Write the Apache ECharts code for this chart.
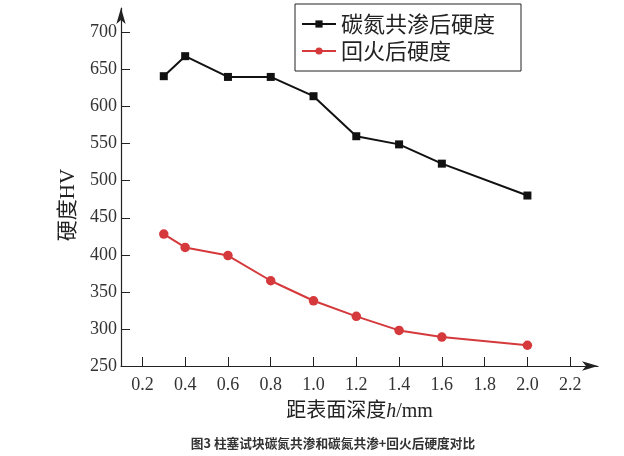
<!DOCTYPE html>
<html><head><meta charset="utf-8">
<script src="https://cdn.jsdelivr.net/npm/echarts@6/dist/echarts.min.js"></script>
<style>html,body{margin:0;padding:0;background:#fff;}#c{width:624px;height:456px;}</style>
</head><body><div id="c"></div>
<script>
var depth = [0.3, 0.4, 0.6, 0.8, 1.0, 1.2, 1.4, 1.6, 2.0];
var carbonitrided = [641, 668, 640, 640, 614, 560, 549, 523, 480];
var tempered = [428, 410, 399, 365, 338, 317, 298, 289, 278];
var xTicks = [0.2, 0.4, 0.6, 0.8, 1.0, 1.2, 1.4, 1.6, 1.8, 2.0, 2.2];
var yTicks = [250, 300, 350, 400, 450, 500, 550, 600, 650, 700];
var seriesNames = ['碳氮共渗后硬度', '回火后硬度'];

function pairs(xs, ys){ return xs.map(function(x,i){ return [x, ys[i]]; }); }
var serif = "'Liberation Serif','DejaVu Serif','Noto Sans CJK SC',serif";
var chart = echarts.init(document.getElementById('c'));
chart.setOption({
  animation: false,
  backgroundColor: '#fff',
  title: {
    text: '图3 柱塞试块碳氮共渗和碳氮共渗+回火后硬度对比',
    left: 328, textAlign: 'center', top: 432,
    textStyle: {fontSize: 12.7, fontWeight: 'bold', color: '#333', fontFamily: "'Noto Sans CJK SC',sans-serif"}
  },
  legend: {
    left: 295, top: 4, orient: 'vertical',
    padding: [9, 26, 9, 6], itemGap: 5,
    borderColor: '#222', borderWidth: 1,
    itemWidth: 34, itemHeight: 9,
    textStyle: {fontSize: 22, color: '#222', fontFamily: "'Noto Sans CJK SC',serif"},
    data: seriesNames
  },
  grid: {left: 121, right: 26, top: 8, bottom: 90},
  xAxis: {
    type: 'value', min: 0.1, max: 2.33,
    name: '{a|距表面深度}{b|h}{a|/mm}', nameLocation: 'middle', nameGap: 36,
    nameTextStyle: {rich: {
      a: {fontSize: 20, color: '#222', fontFamily: serif},
      b: {fontSize: 20, color: '#222', fontFamily: serif, fontStyle: 'italic'}
    }},
    axisLine: {lineStyle: {color: '#222', width: 1.2}, symbol: ['none', 'arrow'], symbolSize: [7, 16]},
    axisTick: {inside: true, length: 9, lineStyle: {color: '#222'}, customValues: xTicks},
    axisLabel: {color: '#333', fontSize: 18, fontFamily: serif, margin: 10, customValues: xTicks,
      formatter: function(v){ return v.toFixed(1); }},
    splitLine: {show: false}
  },
  yAxis: {
    type: 'value', min: 250, max: 733,
    name: '硬度HV', nameLocation: 'middle', nameGap: 37, nameRotate: 90,
    nameTextStyle: {fontSize: 21, color: '#222', fontFamily: serif, padding: [0, 36, 0, 0]},
    axisLine: {show: true, lineStyle: {color: '#222', width: 1.2}, symbol: ['none', 'arrow'], symbolSize: [7, 16]},
    axisTick: {show: true, inside: true, length: 9, lineStyle: {color: '#222'}, customValues: yTicks},
    axisLabel: {color: '#333', fontSize: 18, fontFamily: serif, margin: 4, customValues: yTicks},
    splitLine: {show: false}
  },
  series: [
    {name: seriesNames[0], type: 'line', data: pairs(depth, carbonitrided),
     symbol: 'rect', symbolSize: 8,
     lineStyle: {color: '#111', width: 2}, itemStyle: {color: '#111'}},
    {name: seriesNames[1], type: 'line', data: pairs(depth, tempered),
     symbol: 'circle', symbolSize: 9.5,
     lineStyle: {color: '#d5393b', width: 2}, itemStyle: {color: '#d5393b'}}
  ]
});
</script></body></html>
